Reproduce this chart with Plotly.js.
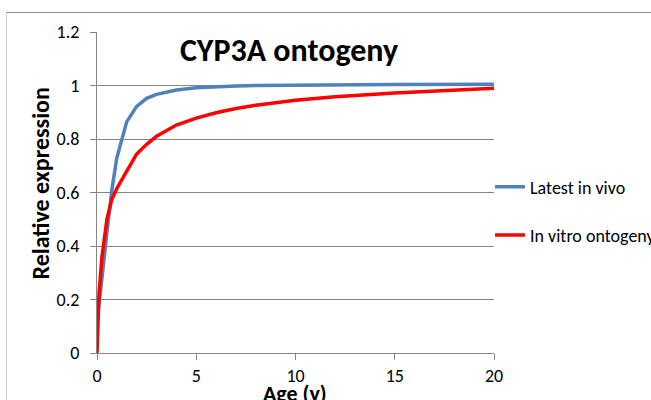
<!DOCTYPE html>
<html><head><meta charset="utf-8">
<script src="https://cdn.plot.ly/plotly-3.0.1.min.js"></script>
<style>
html,body{margin:0;padding:0;background:#fff;overflow:hidden;}
#frame{position:absolute;left:6px;top:12px;width:700px;height:450px;border-top:1px solid #8c8c8c;border-left:1px solid #d0d0d0;}
#chart{position:absolute;left:0;top:0;width:651px;height:400px;}
</style></head>
<body>
<div id="frame"></div>
<div id="chart"></div>
<script>
const ageYears = [0, 0.1, 0.25, 0.5, 0.75, 1, 1.5, 2, 2.5, 3, 4, 5, 6, 7, 8, 10, 12, 15, 20];
const latestInVivo = [0.11, 0.17, 0.28, 0.45, 0.61, 0.73, 0.865, 0.922, 0.952, 0.967, 0.983, 0.992, 0.996, 0.998, 1.0, 1.002, 1.003, 1.004, 1.005];
const inVitroOntogeny = [0, 0.22, 0.36, 0.5, 0.575, 0.615, 0.68, 0.744, 0.78, 0.81, 0.852, 0.878, 0.898, 0.914, 0.926, 0.945, 0.958, 0.972, 0.99];
const seriesNames = ["Latest in vivo", "In vitro ontogeny"];
const xTicks = [0, 5, 10, 15, 20];
const yTicks = [0, 0.2, 0.4, 0.6, 0.8, 1, 1.2];
const yTickText = ["0", "0.2", "0.4", "0.6", "0.8", "1", "1.2"];
const xTitle = "Age (y)";
const yTitle = "Relative expression";
const chartTitle = "CYP3A ontogeny";

const font = "Carlito, Calibri, Lato, 'Open Sans', sans-serif";
const traces = [
  {x: ageYears, y: latestInVivo, name: seriesNames[0], mode: "lines", legendgroup: "a",
   line: {color: "#4F81BD", width: 3.5}},
  {x: ageYears, y: inVitroOntogeny, name: seriesNames[1], mode: "lines", legendgroup: "b",
   line: {color: "#FF0000", width: 3.5}}
];
const plotW = 397.5, plotH = 321.3;
const layout = {
  width: 651, height: 400,
  margin: {l: 96.5, r: 157, t: 32, b: 46.7, autoexpand: false},
  paper_bgcolor: "rgba(0,0,0,0)", plot_bgcolor: "rgba(0,0,0,0)",
  font: {family: font, size: 18, color: "#000"},
  title: {text: "<b>" + chartTitle + "</b>", font: {family: font, size: 32, color: "#000"},
          x: 289/651, xanchor: "center", y: 1 - 50/400, yanchor: "middle"},
  xaxis: {range: [0, 20], tickvals: xTicks, ticktext: xTicks.map(String),
          showgrid: false, zeroline: false, showline: true, linecolor: "#868686", linewidth: 1,
          ticks: "outside", ticklen: 6, tickcolor: "#868686",
          tickfont: {family: font, size: 18}},
  yaxis: {range: [0, 1.2], tickvals: yTicks, ticktext: yTickText,
          showgrid: true, gridcolor: "#868686", gridwidth: 1, zeroline: false,
          showline: true, linecolor: "#868686", linewidth: 1,
          ticks: "outside", ticklen: 6, tickcolor: "#868686",
          ticklabelstandoff: 7,
          tickfont: {family: font, size: 18}},
  annotations: [
    {text: "<b>" + yTitle + "</b>", xref: "paper", yref: "paper",
     x: (40 - 96.5) / plotW, y: (353.3 - 184) / plotH, xanchor: "center", yanchor: "middle",
     textangle: -90, showarrow: false, font: {family: font, size: 24, color: "#000"}},
    {text: "<b>" + xTitle + "</b>", xref: "paper", yref: "paper",
     x: (295 - 96.5) / plotW, y: (353.3 - 378) / plotH, xanchor: "center", yanchor: "top",
     showarrow: false, font: {family: font, size: 22, color: "#000"}}
  ],
  showlegend: true,
  legend: {x: 0.99, xanchor: "left", y: 0.575, yanchor: "top", traceorder: "grouped",
           tracegroupgap: 22, bgcolor: "rgba(0,0,0,0)", font: {family: font, size: 18},
           itemwidth: 30}
};
Plotly.newPlot("chart", traces, layout, {displayModeBar: false, staticPlot: true});
</script>
</body></html>
